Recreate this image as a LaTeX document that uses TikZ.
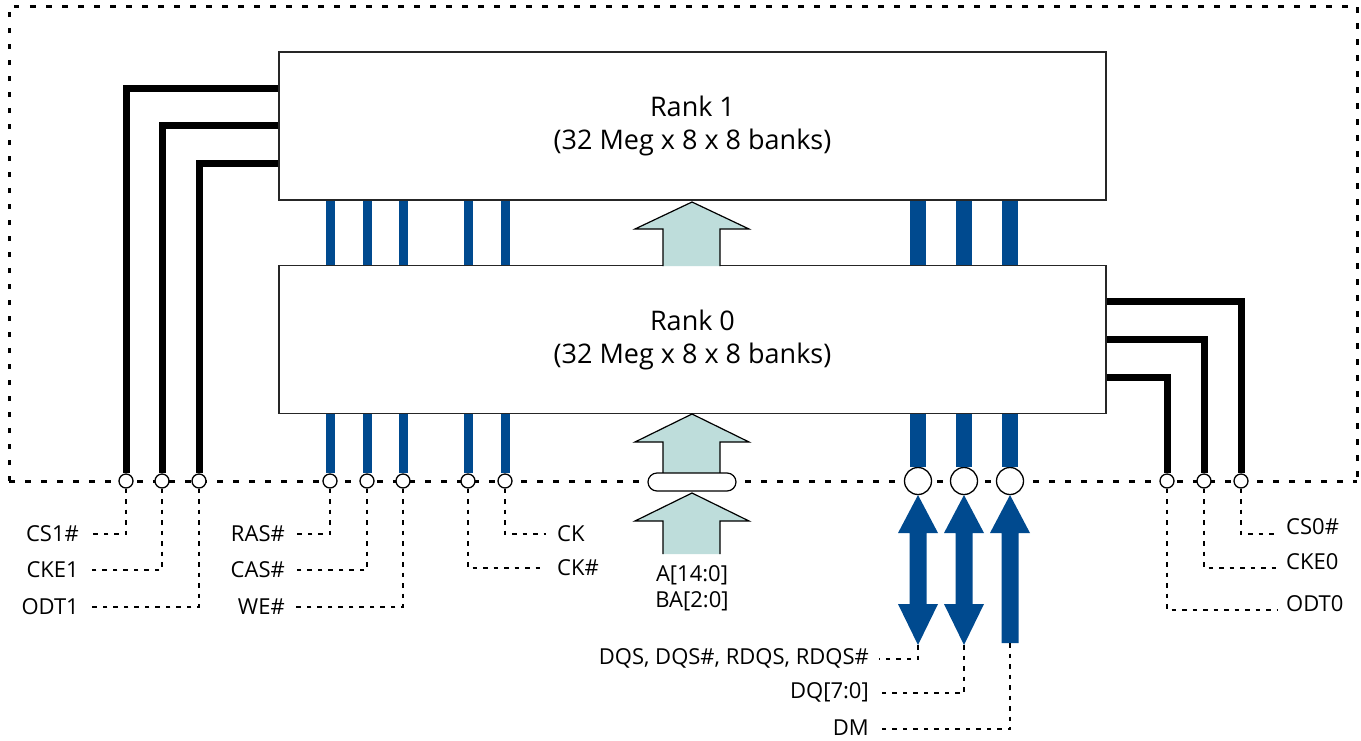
\documentclass[tikz,border=0pt]{standalone}
\usepackage{fontspec}
\setmainfont{Open Sans}
\definecolor{busblue}{RGB}{0,74,143}
\definecolor{addrfill}{RGB}{190,221,219}
\pgfdeclarelayer{bg}
\pgfsetlayers{bg,main}
\begin{document}
\begin{tikzpicture}[x=1pt,y=-1pt,
  lbl/.style={font=\fontsize{22}{26}\selectfont, inner sep=0pt},
  rank/.style={draw=black!85, fill=white, line width=1.3pt, minimum width=827pt, minimum height=148pt, align=center, font=\fontsize{27}{33}\selectfont, inner sep=0pt},
  pin/.style={circle, draw, fill=white, line width=1.3pt, minimum size=14pt, inner sep=0pt},
  bigpin/.style={pin, minimum size=27pt},
  ctl/.style={line width=7pt, line join=miter},
  bus/.style={busblue, line width=9pt},
  dbus/.style={busblue, line width=16pt},
  lead/.style={line width=2.7pt, dash pattern=on 4.5pt off 6pt},
  frame/.style={line width=3pt, dash pattern=on 5.5pt off 10.5pt},
  addr/.style={fill=addrfill, draw=black, line width=1.2pt, line join=miter}
]
\useasboundingbox (0,0) rectangle (1361,740);

% frame
\begin{pgfonlayer}{bg}
\draw[frame] (9,481) -- (9,6) -- (1357,6) -- (1357,481);
\draw[frame] (9,481) -- (1357,481);
\end{pgfonlayer}

% rank boxes
\node[rank] (r1) at (692.5,126) {Rank 1\\(32 Meg x 8 x 8 banks)};
\node[rank] (r0) at (692.5,339.5) {Rank 0\\(32 Meg x 8 x 8 banks)};

% pins
\foreach \n/\x in {c1/126, c2/162, c3/199, c4/330, c5/367, c6/403, c7/468, c8/505, c9/1167, c10/1204, c11/1241}
  \node[pin] (\n) at (\x,481) {};
\node[bigpin] (d1) at (918,481) {};
\node[bigpin] (d2) at (964,481) {};
\node[bigpin] (d3) at (1010,481) {};

% control lines rank 1 (left)
\draw[ctl] (r1.west |- 0,88) -| (c1.north);
\draw[ctl] (r1.west |- 0,125.5) -| (c2.north);
\draw[ctl] (r1.west |- 0,163) -| (c3.north);
% control lines rank 0 (right)
\draw[ctl] (r0.east |- 0,301) -| (c11.north);
\draw[ctl] (r0.east |- 0,339) -| (c10.north);
\draw[ctl] (r0.east |- 0,377) -| (c9.north);

% command / clock buses
\foreach \n in {c4,c5,c6,c7,c8}{
  \draw[bus] (r1.south -| \n) -- (r0.north -| \n);
  \draw[bus] (r0.south -| \n) -- (\n.north);
}
% data buses
\foreach \n in {d1,d2,d3}{
  \draw[dbus] (r1.south -| \n) -- (r0.north -| \n);
  \draw[dbus] (r0.south -| \n) -- (\n.north);
}

% address arrows
\draw[addr] (663,266) -- (663,229) -- (635,229) -- (692,202) -- (749,229) -- (720,229) -- (720,266);
\draw[addr] (663,473) -- (663,442) -- (635,442) -- (692,414) -- (749,442) -- (720,442) -- (720,473);
\node[draw, fill=white, rounded corners=9pt, minimum width=88pt, minimum height=18pt, line width=1.2pt, inner sep=0pt] (pill) at (692,482) {};
\draw[addr] (663,554) -- (663,521) -- (635,521) -- (692,493) -- (749,521) -- (720,521) -- (720,554);
\node[lbl, align=center] (addrlbl) at (692,588) {A[14:0]\\BA[2:0]};

% data arrows
\fill[busblue] (918,495) -- (938,533) -- (926.5,533) -- (926.5,604) -- (938,604) -- (918,645) -- (898,604) -- (909.5,604) -- (909.5,533) -- (898,533) -- cycle;
\fill[busblue] (964,495) -- (984,533) -- (972.5,533) -- (972.5,604) -- (984,604) -- (964,645) -- (944,604) -- (955.5,604) -- (955.5,533) -- (944,533) -- cycle;
\fill[busblue] (1010,495) -- (1030,533) -- (1018.5,533) -- (1018.5,643) -- (1001.5,643) -- (1001.5,533) -- (990,533) -- cycle;
\coordinate (t1) at (918,645);
\coordinate (t2) at (964,645);
\coordinate (t3) at (1010,643);

% left labels
\node[lbl, anchor=east] (cs1) at (79,534) {CS1\#};
\node[lbl, anchor=east] (cke1) at (79,570) {CKE1};
\node[lbl, anchor=east] (odt1) at (79,607) {ODT1};
\coordinate (e1) at (90,534);
\coordinate (e2) at (90,570);
\coordinate (e3) at (90,607);
\draw[lead] (c1.south) |- (e1);
\draw[lead] (c2.south) |- (e2);
\draw[lead] (c3.south) |- (e3);

\node[lbl, anchor=east] (ras) at (285,534) {RAS\#};
\node[lbl, anchor=east] (cas) at (285,570) {CAS\#};
\node[lbl, anchor=east] (we) at (285,607) {WE\#};
\coordinate (e4) at (295,534);
\coordinate (e5) at (295,570);
\coordinate (e6) at (295,607);
\draw[lead] (c4.south) |- (e4);
\draw[lead] (c5.south) |- (e5);
\draw[lead] (c6.south) |- (e6);

\node[lbl, anchor=west] (ck) at (557,534) {CK};
\node[lbl, anchor=west] (ckn) at (557,568) {CK\#};
\coordinate (e8) at (546,534);
\coordinate (e7) at (546,568);
\draw[lead] (c8.south) |- (e8);
\draw[lead] (c7.south) |- (e7);

% data labels
\node[lbl, anchor=east] (dqs) at (869,658) {DQS, DQS\#, RDQS, RDQS\#};
\node[lbl, anchor=east] (dq) at (869,692) {DQ[7:0]};
\node[lbl, anchor=east] (dm) at (869,728) {DM};
\coordinate (f1) at (879,659);
\coordinate (f2) at (879,693);
\coordinate (f3) at (879,729);
\draw[lead] (t1) |- (f1);
\draw[lead] (t2) |- (f2);
\draw[lead] (t3) |- (f3);

% right labels
\node[lbl, anchor=west] (cs0) at (1286,527) {CS0\#};
\node[lbl, anchor=west] (cke0) at (1286,562) {CKE0};
\node[lbl, anchor=west] (odt0) at (1286,604) {ODT0};
\coordinate (g1) at (1278,534);
\coordinate (g2) at (1278,568);
\coordinate (g3) at (1278,610);
\draw[lead] (c11.south) |- (g1);
\draw[lead] (c10.south) |- (g2);
\draw[lead] (c9.south) |- (g3);
\end{tikzpicture}
\end{document}
